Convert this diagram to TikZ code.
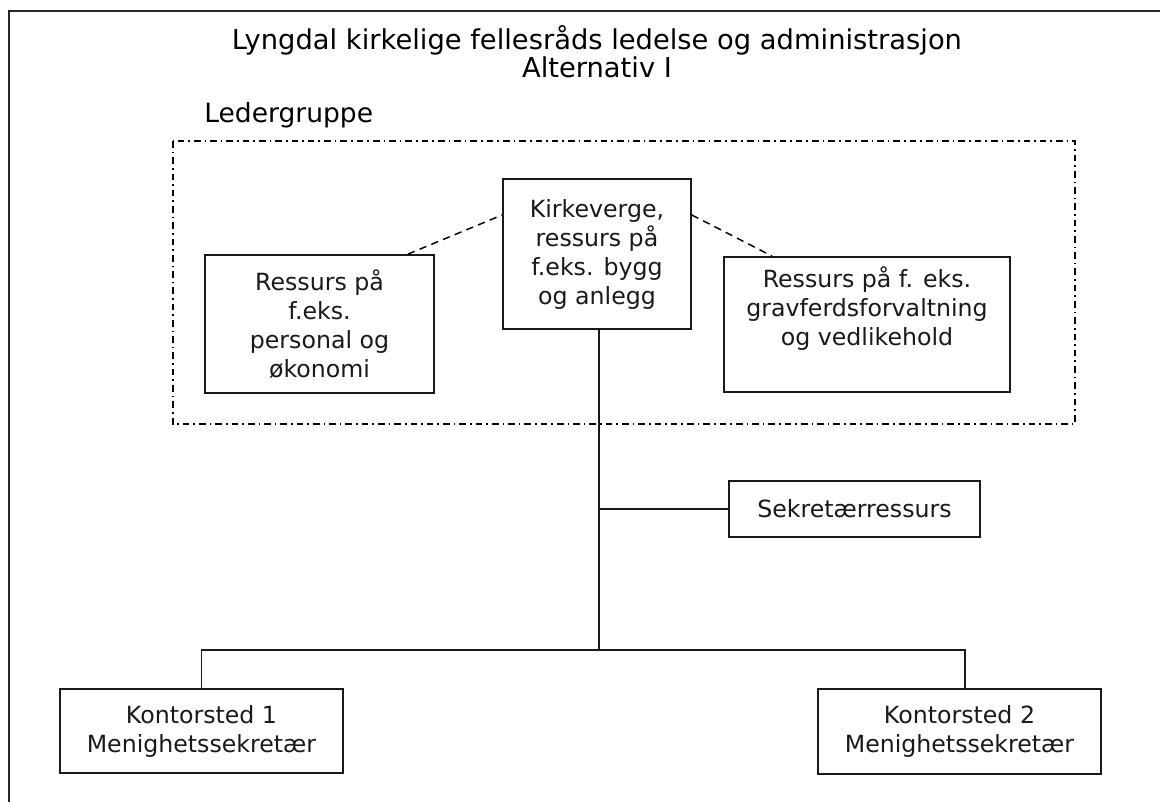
\documentclass[tikz,border=0pt]{standalone}
\usepackage{fontspec}
\setmainfont{DejaVu Sans}
\begin{document}
\begin{tikzpicture}[x=0.75pt,y=-0.75pt,
  frameline/.style={line width=1.1pt,black!85},
  boxnode/.style={draw,line width=1.3pt,black!90,rectangle,inner sep=0pt,align=center,
     font=\fontsize{17.75}{21.75}\selectfont},
  titletext/.style={inner sep=0pt,anchor=base,font=\fontsize{20.5}{21}\selectfont},
  conn/.style={line width=1.2pt,black!90},
  dashconn/.style={line width=1.1pt,dash pattern=on 5.5pt off 4pt},
  groupline/.style={line width=1.1pt,dash pattern=on 5pt off 3pt on 1.2pt off 3pt}]
\useasboundingbox (0,0) rectangle (1160,802);
\fill[white] (0,0) rectangle (1160,802);
% outer frame (top and left edges)
\coordinate (ftl) at (9,11);
\coordinate (ftr) at (1160,11);
\coordinate (fbl) at (9,802);
\draw[frameline] (ftr) -- (ftl) -- (fbl);
% titles
\node[titletext] (t1) at (597,50) {Lyngdal kirkelige fellesråds ledelse og administrasjon};
\node[titletext] (t2) at (597,78) {Alternativ I};
\node[titletext,anchor=base west,font=\fontsize{19.9}{21}\selectfont] (lg) at (204,123) {Ledergruppe};
% group box
\coordinate (gnw) at (173,141);
\coordinate (gse) at (1075,424);
\draw[groupline] (gnw) rectangle (gse);
% boxes
\node[boxnode,minimum width=229*0.75pt,minimum height=138*0.75pt] (lbox) at (319.5,324)
  {Ressurs på\\f.eks.\\personal og\\økonomi};
\node[boxnode,minimum width=188*0.75pt,minimum height=150*0.75pt] (cbox) at (597,254)
  {Kirkeverge,\\ressurs på\\f.eks. bygg\\og anlegg};
\node[boxnode,minimum width=286*0.75pt,minimum height=135*0.75pt] (rbox) at (867,324.5)
  {Ressurs på f. eks.\\gravferdsforvaltning\\og vedlikehold\\\strut};
\node[boxnode,minimum width=251*0.75pt,minimum height=56*0.75pt] (sbox) at (854.5,509)
  {Sekretærressurs};
\node[boxnode,minimum width=283*0.75pt,minimum height=84*0.75pt] (k1) at (201.5,731)
  {Kontorsted 1\\Menighetssekretær};
\node[boxnode,minimum width=283*0.75pt,minimum height=85*0.75pt] (k2) at (959.5,731.5)
  {Kontorsted 2\\Menighetssekretær};
% dashed links
\draw[dashconn] ([xshift=-20.25pt]lbox.north east) -- ([yshift=29.25pt]cbox.west);
\draw[dashconn] ([yshift=29.25pt]cbox.east) -- ([xshift=36.75pt]rbox.north west);
% tree
\coordinate (bus) at (599,650);
\coordinate (k2drop) at ([xshift=4.1pt]k2.north);
\draw[conn] ([xshift=1.5pt]cbox.south) -- ([xshift=1.5pt]cbox.south |- bus);
\draw[conn] (sbox.west) -- (sbox.west -| bus);
\draw[conn] (k1.north) -- (k1.north |- bus) -- (k2drop |- bus) -- (k2drop);
\end{tikzpicture}
\end{document}
